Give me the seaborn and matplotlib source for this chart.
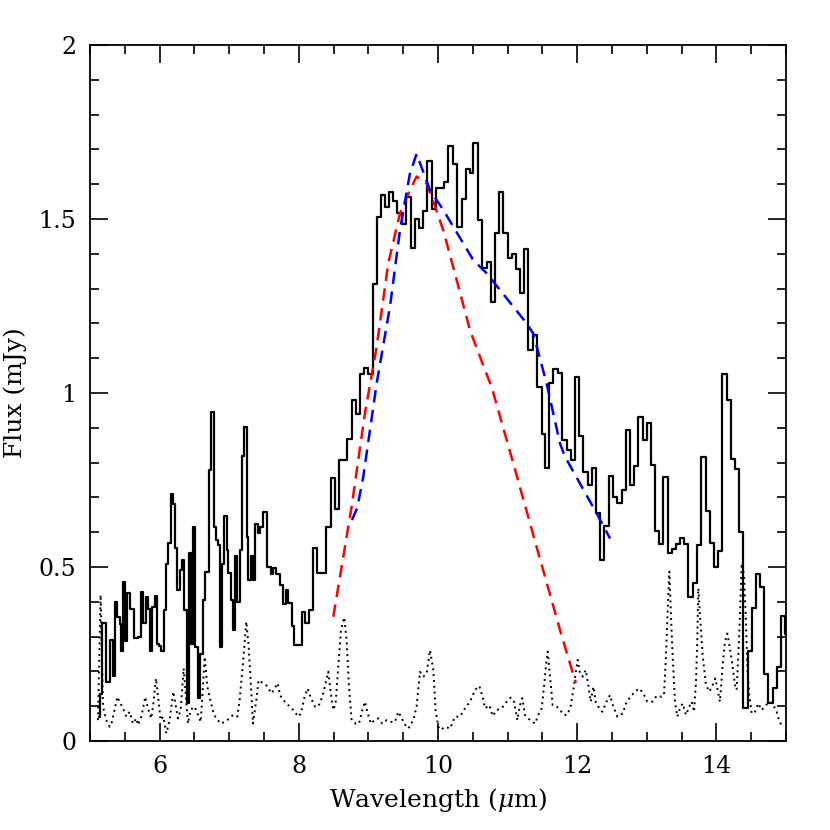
import numpy as np
import matplotlib
matplotlib.use("Agg")
import matplotlib.pyplot as plt
from matplotlib.ticker import MultipleLocator, FuncFormatter
import seaborn as sns

# binned spectrum: left bin edges (micron) and flux (mJy)
wave_edges = [
    5.130, 5.144, 5.172, 5.235, 5.283, 5.330, 5.354, 5.393, 5.426, 5.450,
    5.474, 5.508, 5.536, 5.570, 5.627, 5.690, 5.738, 5.766, 5.810, 5.833,
    5.867, 5.896, 5.930, 5.963, 5.991, 6.025, 6.058, 6.097, 6.125, 6.159,
    6.197, 6.226, 6.255, 6.288, 6.322, 6.350, 6.389, 6.418, 6.446, 6.485,
    6.513, 6.552, 6.580, 6.624, 6.657, 6.709, 6.738, 6.781, 6.810, 6.844,
    6.868, 6.901, 6.930, 6.963, 6.987, 7.021, 7.059, 7.083, 7.117, 7.155,
    7.188, 7.217, 7.251, 7.275, 7.308, 7.337, 7.370, 7.409, 7.442, 7.490,
    7.548, 7.595, 7.634, 7.672, 7.730, 7.777, 7.811, 7.849, 7.907, 7.936,
    8.041, 8.089, 8.151, 8.209, 8.266, 8.390, 8.458, 8.520, 8.582, 8.697,
    8.759, 8.822, 8.879, 8.937, 8.999, 9.061, 9.128, 9.181, 9.243, 9.300,
    9.358, 9.415, 9.478, 9.540, 9.607, 9.669, 9.727, 9.789, 9.846, 9.909,
    9.971, 10.086, 10.148, 10.210, 10.277, 10.340, 10.397, 10.459, 10.507, 10.570,
    10.637, 10.699, 10.756, 10.819, 10.876, 10.938, 11.000, 11.068, 11.120, 11.178,
    11.235, 11.298, 11.360, 11.417, 11.490, 11.540, 11.600, 11.657, 11.730, 11.787,
    11.849, 11.907, 11.969, 12.031, 12.089, 12.151, 12.208, 12.270, 12.328, 12.390,
    12.457, 12.510, 12.577, 12.640, 12.702, 12.759, 12.821, 12.879, 12.941, 12.999,
    13.061, 13.118, 13.180, 13.238, 13.300, 13.358, 13.420, 13.477, 13.540, 13.597,
    13.660, 13.717, 13.779, 13.846, 13.909, 13.966, 14.028, 14.086, 14.148, 14.205,
    14.268, 14.330, 14.387, 14.450, 14.507, 14.569, 14.627, 14.685, 14.747, 14.809,
    14.867, 14.924, 14.986,
]
flux = [
    0.070, 0.134, 0.338, 0.169, 0.290, 0.188, 0.400, 0.357, 0.336, 0.260,
    0.456, 0.288, 0.424, 0.379, 0.295, 0.300, 0.427, 0.338, 0.415, 0.380,
    0.260, 0.386, 0.418, 0.279, 0.273, 0.260, 0.376, 0.509, 0.568, 0.710,
    0.680, 0.554, 0.434, 0.490, 0.520, 0.376, 0.108, 0.539, 0.280, 0.614,
    0.270, 0.123, 0.250, 0.405, 0.487, 0.780, 0.946, 0.616, 0.578, 0.563,
    0.270, 0.510, 0.648, 0.549, 0.484, 0.405, 0.320, 0.532, 0.400, 0.549,
    0.819, 0.903, 0.587, 0.464, 0.532, 0.464, 0.624, 0.597, 0.616, 0.659,
    0.500, 0.480, 0.496, 0.480, 0.448, 0.393, 0.434, 0.396, 0.330, 0.276,
    0.372, 0.340, 0.376, 0.556, 0.482, 0.616, 0.757, 0.667, 0.807, 0.867,
    0.980, 0.940, 1.054, 1.073, 1.056, 1.313, 1.505, 1.569, 1.534, 1.577,
    1.552, 1.516, 1.485, 1.564, 1.416, 1.499, 1.473, 1.523, 1.667, 1.529,
    1.590, 1.605, 1.710, 1.657, 1.478, 1.557, 1.643, 1.631, 1.717, 1.497,
    1.358, 1.377, 1.262, 1.459, 1.577, 1.459, 1.387, 1.399, 1.355, 1.286,
    1.413, 1.124, 1.167, 1.018, 0.882, 0.784, 1.028, 1.068, 1.058, 0.866,
    0.835, 0.808, 1.045, 0.876, 0.774, 0.736, 0.785, 0.654, 0.520, 0.619,
    0.762, 0.702, 0.685, 0.721, 0.894, 0.736, 0.790, 0.932, 0.865, 0.913,
    0.793, 0.604, 0.566, 0.758, 0.539, 0.551, 0.566, 0.584, 0.566, 0.415,
    0.453, 0.563, 0.817, 0.662, 0.570, 0.501, 0.546, 1.055, 0.980, 0.809,
    0.782, 0.602, 0.094, 0.260, 0.383, 0.480, 0.443, 0.192, 0.108, 0.151,
    0.214, 0.359, 0.307,
]
wave_end = 15.05

# noise spectrum
noise_wave = [
    5.115, 5.153, 5.187, 5.235, 5.283, 5.316, 5.393, 5.426, 5.474, 5.522,
    5.570, 5.618, 5.666, 5.690, 5.738, 5.795, 5.833, 5.881, 5.910, 5.948,
    5.977, 6.015, 6.054, 6.097, 6.145, 6.197, 6.226, 6.264, 6.303, 6.346,
    6.370, 6.408, 6.446, 6.494, 6.528, 6.590, 6.614, 6.648, 6.686, 6.734,
    6.782, 6.839, 6.877, 6.935, 7.007, 7.055, 7.117, 7.150, 7.198, 7.246,
    7.280, 7.308, 7.342, 7.390, 7.423, 7.486, 7.533, 7.610, 7.696, 7.730,
    7.777, 7.849, 7.921, 7.993, 8.031, 8.079, 8.127, 8.175, 8.232, 8.280,
    8.338, 8.386, 8.424, 8.457, 8.496, 8.529, 8.568, 8.606, 8.654, 8.687,
    8.721, 8.759, 8.817, 8.865, 8.913, 8.951, 8.989, 9.037, 9.085, 9.142,
    9.200, 9.262, 9.310, 9.382, 9.430, 9.468, 9.516, 9.573, 9.645, 9.693,
    9.741, 9.789, 9.837, 9.885, 9.933, 9.966, 10.004, 10.040, 10.101, 10.173,
    10.245, 10.316, 10.388, 10.460, 10.532, 10.594, 10.642, 10.676, 10.738, 10.786,
    10.843, 10.915, 10.987, 11.044, 11.092, 11.140, 11.178, 11.212, 11.250, 11.322,
    11.394, 11.442, 11.490, 11.523, 11.552, 11.576, 11.610, 11.648, 11.705, 11.753,
    11.811, 11.858, 11.906, 11.945, 11.983, 12.007, 12.040, 12.079, 12.122, 12.160,
    12.194, 12.232, 12.270, 12.318, 12.361, 12.409, 12.471, 12.519, 12.576, 12.653,
    12.710, 12.768, 12.830, 12.892, 12.950, 13.007, 13.084, 13.142, 13.213, 13.247,
    13.276, 13.309, 13.324, 13.347, 13.371, 13.405, 13.438, 13.477, 13.515, 13.563,
    13.611, 13.644, 13.678, 13.707, 13.726, 13.740, 13.764, 13.802, 13.850, 13.898,
    13.946, 13.984, 14.013, 14.051, 14.090, 14.123, 14.157, 14.195, 14.233, 14.267,
    14.291, 14.315, 14.339, 14.363, 14.396, 14.425, 14.444, 14.473, 14.507, 14.554,
    14.602, 14.650, 14.712, 14.770, 14.818, 14.866, 14.904, 14.938,
]
noise_flux = [
    0.060, 0.420, 0.099, 0.060, 0.041, 0.055, 0.127, 0.113, 0.094, 0.070,
    0.084, 0.050, 0.065, 0.046, 0.070, 0.127, 0.094, 0.065, 0.108, 0.180,
    0.127, 0.060, 0.070, 0.022, 0.060, 0.142, 0.108, 0.065, 0.089, 0.209,
    0.147, 0.050, 0.089, 0.099, 0.089, 0.055, 0.127, 0.242, 0.156, 0.113,
    0.075, 0.060, 0.050, 0.055, 0.065, 0.075, 0.070, 0.118, 0.223, 0.343,
    0.271, 0.175, 0.050, 0.118, 0.175, 0.166, 0.160, 0.137, 0.166, 0.132,
    0.118, 0.103, 0.089, 0.070, 0.080, 0.123, 0.151, 0.123, 0.099, 0.099,
    0.127, 0.166, 0.199, 0.142, 0.089, 0.108, 0.214, 0.319, 0.355, 0.290,
    0.156, 0.060, 0.050, 0.050, 0.089, 0.113, 0.080, 0.050, 0.060, 0.065,
    0.050, 0.060, 0.055, 0.055, 0.084, 0.070, 0.050, 0.036, 0.060, 0.099,
    0.199, 0.185, 0.194, 0.261, 0.204, 0.089, 0.041, 0.032, 0.041, 0.036,
    0.070, 0.070, 0.094, 0.113, 0.147, 0.158, 0.127, 0.094, 0.103, 0.072,
    0.089, 0.094, 0.113, 0.125, 0.113, 0.060, 0.103, 0.123, 0.075, 0.060,
    0.050, 0.075, 0.094, 0.156, 0.218, 0.257, 0.185, 0.103, 0.099, 0.089,
    0.075, 0.075, 0.099, 0.147, 0.204, 0.233, 0.194, 0.185, 0.204, 0.161,
    0.113, 0.156, 0.110, 0.094, 0.084, 0.108, 0.132, 0.099, 0.070, 0.079,
    0.113, 0.127, 0.142, 0.151, 0.137, 0.113, 0.113, 0.130, 0.127, 0.132,
    0.247, 0.420, 0.487, 0.362, 0.247, 0.113, 0.070, 0.094, 0.108, 0.075,
    0.099, 0.113, 0.084, 0.170, 0.295, 0.439, 0.362, 0.247, 0.161, 0.142,
    0.161, 0.180, 0.151, 0.113, 0.218, 0.285, 0.309, 0.266, 0.214, 0.161,
    0.147, 0.247, 0.362, 0.510, 0.477, 0.343, 0.209, 0.132, 0.079, 0.084,
    0.108, 0.089, 0.103, 0.113, 0.103, 0.084, 0.056, 0.046,
]

# model fits
red_wave = [8.496, 8.759, 8.951, 9.119, 9.286, 9.454, 9.597, 9.693, 9.837, 9.909,
            10.076, 10.268, 10.459, 10.675, 10.770, 11.082, 11.417, 11.753, 11.980]
red_flux = [0.357, 0.673, 0.942, 1.133, 1.373, 1.516, 1.583, 1.622, 1.602, 1.564,
            1.468, 1.325, 1.181, 1.066, 1.018, 0.798, 0.558, 0.319, 0.167]
blue_wave = [8.764, 8.840, 8.927, 9.119, 9.310, 9.454, 9.597, 9.693, 9.885, 10.076,
             10.507, 10.699, 10.891, 11.274, 11.369, 11.560, 11.753, 11.825, 12.280, 12.472]
blue_flux = [0.635, 0.670, 0.760, 1.028, 1.248, 1.468, 1.631, 1.687, 1.583, 1.526,
             1.382, 1.344, 1.296, 1.200, 1.171, 1.028, 0.855, 0.817, 0.654, 0.582]

sns.set_style("ticks")
plt.rcParams['font.family'] = ['DejaVu Serif']
plt.rcParams['mathtext.fontset'] = 'dejavuserif'
for key in ['text.color', 'axes.labelcolor', 'xtick.color', 'ytick.color']:
    plt.rcParams[key] = 'black'

fig = plt.figure(figsize=(8.3, 8.3), dpi=100)
ax = fig.add_axes([0.1084, 0.1072, 0.8386, 0.8386])

step_x = np.append(wave_edges, wave_end)
step_y = np.append(flux, flux[-1])
sns.lineplot(x=step_x, y=step_y, ax=ax, color='black', lw=1.6,
             drawstyle='steps-post', estimator=None, sort=False)
sns.lineplot(x=noise_wave, y=noise_flux, ax=ax, color='black', lw=1.4,
             linestyle=(0, (1, 2)), estimator=None, sort=False)
sns.lineplot(x=red_wave, y=red_flux, ax=ax, color='red', lw=1.8,
             linestyle=(0, (5, 3)), estimator=None, sort=False)
sns.lineplot(x=blue_wave, y=blue_flux, ax=ax, color='blue', lw=1.8,
             linestyle=(0, (5, 3)), estimator=None, sort=False)

ax.set_xlim(5, 15)
ax.set_ylim(0, 2)
ax.xaxis.set_major_locator(MultipleLocator(2))
ax.xaxis.set_minor_locator(MultipleLocator(0.5))
ax.yaxis.set_major_locator(MultipleLocator(0.5))
ax.yaxis.set_minor_locator(MultipleLocator(0.1))
ax.yaxis.set_major_formatter(FuncFormatter(lambda v, p: '%g' % v))

ax.tick_params(which='both', direction='in', top=True, right=True, color='black')
ax.tick_params(which='major', length=13, width=1.2, labelsize=17, pad=10)
ax.tick_params(which='minor', length=6.5, width=1.2)
for sp in ax.spines.values():
    sp.set_linewidth(1.3)
    sp.set_color('black')

ax.set_xlabel('Wavelength ($\\mu$m)', fontsize=18, labelpad=6)
ax.set_ylabel('Flux (mJy)', fontsize=18, labelpad=8)

fig.savefig('out.png', dpi=100)
